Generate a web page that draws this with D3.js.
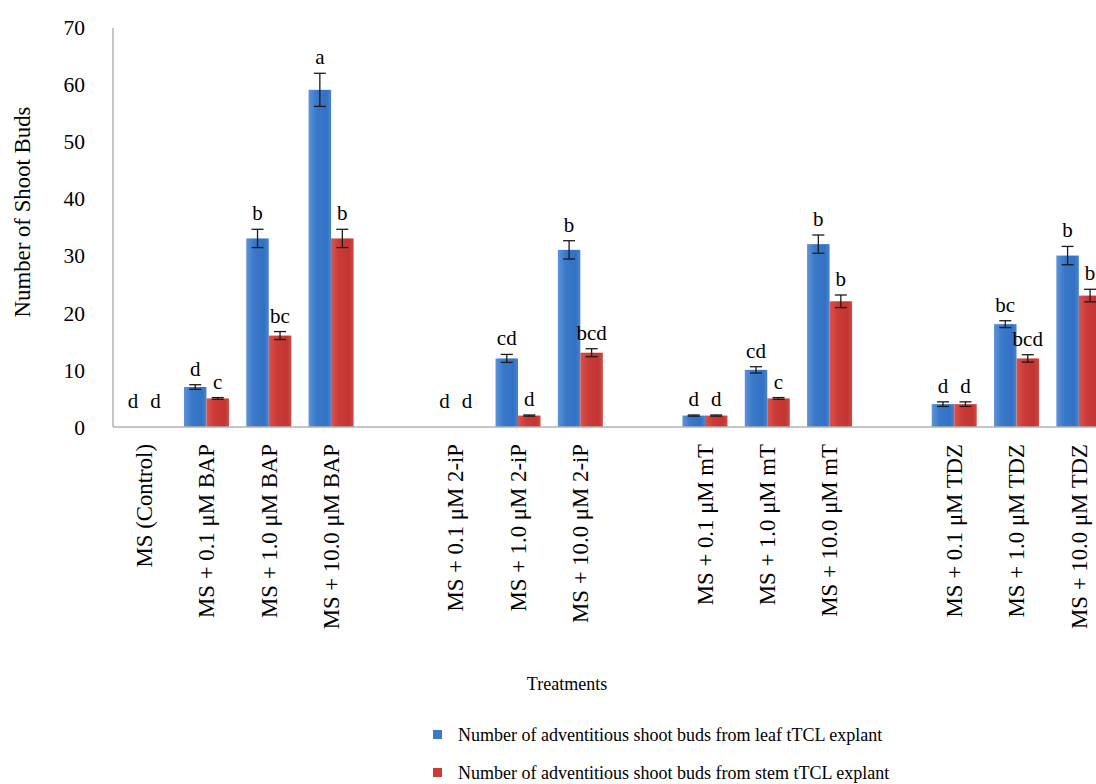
<!DOCTYPE html>
<html>
<head>
<meta charset="utf-8">
<script src="https://cdn.jsdelivr.net/npm/d3@7"></script>
<style>
  html, body { margin: 0; padding: 0; background: #fff; }
  svg { display: block; }
  text { font-family: "Liberation Serif", "Times New Roman", serif; fill: #000; }
</style>
</head>
<body>
<div id="chart"></div>
<script>
// Treatments; empty strings are spacer slots separating the cytokinin groups
const treatments = [
  "MS (Control)", "MS + 0.1 μM BAP", "MS + 1.0 μM BAP", "MS + 10.0 μM BAP", "",
  "MS + 0.1 μM 2-iP", "MS + 1.0 μM 2-iP", "MS + 10.0 μM 2-iP", "",
  "MS + 0.1 μM mT", "MS + 1.0 μM mT", "MS + 10.0 μM mT", "",
  "MS + 0.1 μM TDZ", "MS + 1.0 μM TDZ", "MS + 10.0 μM TDZ"
];
const seriesNames = [
  "Number of adventitious shoot buds from leaf tTCL explant",
  "Number of adventitious shoot buds from stem tTCL explant"
];
// Mean number of shoot buds (null = spacer slot)
const leafValues = [0, 7, 33, 59, null, 0, 12, 31, null, 2, 10, 32, null, 4, 18, 30];
const stemValues = [0, 5, 16, 33, null, 0, 2, 13, null, 2, 5, 22, null, 4, 12, 23];
// Standard errors
const leafErrors = [0, 0.4, 1.6, 2.9, null, 0, 0.7, 1.6, null, 0.1, 0.55, 1.6, null, 0.4, 0.6, 1.6];
const stemErrors = [0, 0.15, 0.7, 1.6, null, 0, 0.1, 0.7, null, 0.1, 0.15, 1.1, null, 0.4, 0.65, 1.1];
// Significance letters
const leafLetters = ["d", "d", "b", "a", null, "d", "cd", "b", null, "d", "cd", "b", null, "d", "bc", "b"];
const stemLetters = ["d", "c", "bc", "b", null, "d", "d", "bcd", null, "d", "c", "b", null, "d", "bcd", "b"];
const yTicks = [0, 10, 20, 30, 40, 50, 60, 70];

const W = 1096, H = 784;
const margin = { left: 113, top: 27, bottom: 427 };
const plotRight = 1110; // plot area extends past the page edge

const svg = d3.select("#chart").append("svg")
  .attr("width", W).attr("height", H);

const defs = svg.append("defs");
function grad(id, stops) {
  const g = defs.append("linearGradient").attr("id", id)
    .attr("x1", "0%").attr("x2", "100%").attr("y1", "0%").attr("y2", "0%");
  stops.forEach(([o, c]) => g.append("stop").attr("offset", o).attr("stop-color", c));
}
grad("gLeaf", [["0%", "#5d93d8"], ["35%", "#3a78c9"], ["80%", "#3272c4"], ["100%", "#4a84cc"]]);
grad("gStem", [["0%", "#d8534d"], ["35%", "#cb3b37"], ["80%", "#c23532"], ["100%", "#cf4a45"]]);

const slots = treatments.map((t, i) => i);
const x = d3.scaleBand().domain(slots).range([margin.left, plotRight]).padding(0);
const y = d3.scaleLinear().domain([0, 70]).range([margin.bottom, margin.top]);
const barW = 22.5;
const xs = d3.scaleBand().domain([0, 1])
  .range([-barW, barW]).padding(0);

// Axes
const axisColor = "#b3b3b3";
svg.append("line")
  .attr("x1", margin.left).attr("x2", margin.left)
  .attr("y1", y(70) + 1).attr("y2", y(0))
  .attr("stroke", axisColor).attr("stroke-width", 1.5);

const yAxis = svg.append("g")
  .attr("transform", `translate(${margin.left - 28},0)`)
  .call(d3.axisLeft(y).tickValues(yTicks).tickSize(0).tickPadding(0));
yAxis.select(".domain").remove();
yAxis.selectAll("text")
  .attr("font-family", "Liberation Serif")
  .attr("font-size", 21.5)
  .attr("dy", "0.34em")
  .attr("fill", "#000");

// Bars
const series = [
  { values: leafValues, errors: leafErrors, letters: leafLetters, fill: "url(#gLeaf)" },
  { values: stemValues, errors: stemErrors, letters: stemLetters, fill: "url(#gStem)" }
];
const cx = i => x(i) + x.bandwidth() / 2;

series.forEach((s, si) => {
  const g = svg.append("g");
  const data = slots.filter(i => s.values[i] !== null);
  g.selectAll("rect").data(data).enter().append("rect")
    .attr("x", i => cx(i) + xs(si))
    .attr("width", xs.bandwidth())
    .attr("y", i => y(s.values[i]))
    .attr("height", i => y(0) - y(s.values[i]))
    .attr("fill", s.fill);

  // Error bars
  const eb = g.selectAll("g.err").data(data.filter(i => s.values[i] > 0)).enter()
    .append("g").attr("class", "err");
  const mid = i => cx(i) + xs(si) + xs.bandwidth() / 2;
  eb.append("line")
    .attr("x1", mid).attr("x2", mid)
    .attr("y1", i => y(s.values[i] + s.errors[i]))
    .attr("y2", i => y(s.values[i] - s.errors[i]))
    .attr("stroke", "#1a1a1a").attr("stroke-width", 1.3);
  [1, -1].forEach(sign => {
    eb.append("line")
      .attr("x1", i => mid(i) - 6).attr("x2", i => mid(i) + 6)
      .attr("y1", i => y(s.values[i] + sign * s.errors[i]))
      .attr("y2", i => y(s.values[i] + sign * s.errors[i]))
      .attr("stroke", "#1a1a1a").attr("stroke-width", 1.3);
  });

  // Significance letters
  g.selectAll("text.sig").data(data).enter().append("text")
    .attr("class", "sig")
    .attr("x", mid)
    .attr("y", i => Math.min(y(s.values[i] + s.errors[i]) - 9, y(0) - 19))
    .attr("text-anchor", "middle")
    .attr("font-size", 21)
    .text(i => s.letters[i]);
});

// X axis baseline
svg.append("line")
  .attr("x1", margin.left).attr("x2", W)
  .attr("y1", y(0)).attr("y2", y(0))
  .attr("stroke", axisColor).attr("stroke-width", 1.5);

// Rotated category labels
svg.append("g").selectAll("text").data(slots.filter(i => treatments[i] !== "")).enter()
  .append("text")
  .attr("transform", i => `translate(${cx(i)},444) rotate(-90)`)
  .attr("text-anchor", "end")
  .attr("dy", "0.34em")
  .attr("font-size", 22.8)
  .text(i => treatments[i]);

// Axis titles
svg.append("text")
  .attr("transform", `translate(22,212) rotate(-90)`)
  .attr("text-anchor", "middle")
  .attr("dy", "0.34em")
  .attr("font-size", 22.8)
  .text("Number of Shoot Buds");

svg.append("text")
  .attr("x", 567).attr("y", 690)
  .attr("text-anchor", "middle")
  .attr("font-size", 18)
  .text("Treatments");

// Legend
const legend = svg.append("g");
const legendFills = ["#3a78c9", "#cb3b37"];
seriesNames.forEach((name, i) => {
  const ly = 735 + i * 38;
  legend.append("rect")
    .attr("x", 433).attr("y", ly - 5)
    .attr("width", 9).attr("height", 9)
    .attr("fill", legendFills[i]);
  legend.append("text")
    .attr("x", 458).attr("y", ly)
    .attr("dy", "0.34em")
    .attr("font-size", 18)
    .text(name);
});
</script>
</body>
</html>
